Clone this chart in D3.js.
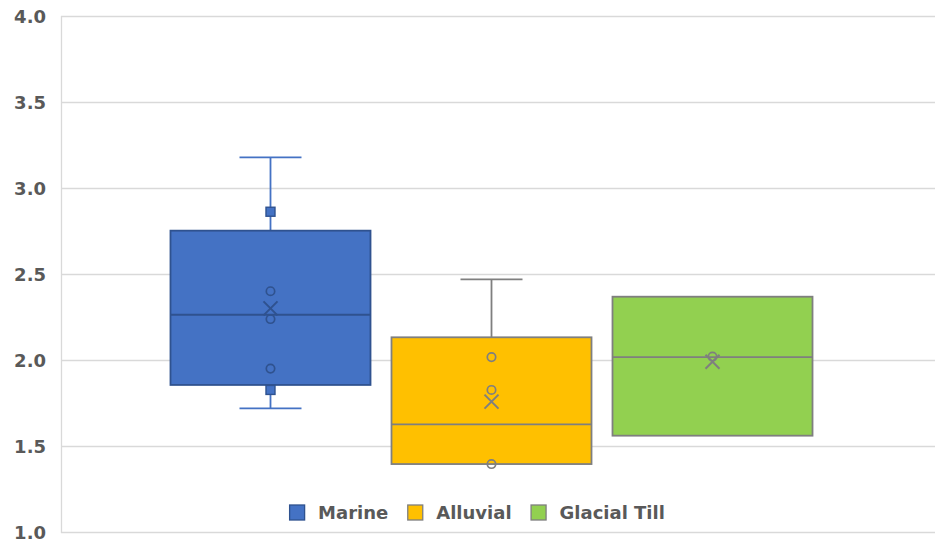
<!DOCTYPE html>
<html>
<head>
<meta charset="utf-8">
<script src="https://cdn.jsdelivr.net/npm/d3@7/dist/d3.min.js"></script>
<style>
  html, body { margin: 0; padding: 0; background: #ffffff; }
  svg { display: block; }
  text { font-family: "DejaVu Sans", sans-serif; font-weight: bold; fill: #595959; }
</style>
</head>
<body>
<svg id="chart" width="935" height="544"></svg>
<script>
// Box-and-whisker summary per soil type
const seriesNames = ["Marine", "Alluvial", "Glacial Till"];
const mins    = [1.719, 1.395, 1.56];
const q1s     = [1.855, 1.395, 1.56];
const medians = [2.263, 1.626, 2.017];
const q3s     = [2.752, 2.132, 2.368];
const maxs    = [3.178, 2.469, 2.368];
const means   = [2.30, 1.758, 1.99];
// Individual observations shown as markers
const pointsMarine   = [2.862, 2.40, 2.238, 1.95, 1.826];
const pointsAlluvial = [2.017, 1.826, 1.395];
const pointsGlacial  = [2.02];
const yTicks = [1.0, 1.5, 2.0, 2.5, 3.0, 3.5, 4.0];

const fills   = ["#4472C4", "#FFC000", "#92D050"];
const strokes = ["#2F528F", "#7F7F7F", "#7F7F7F"];
const whiskerColors = ["#4472C4", "#7F7F7F", "#7F7F7F"];

const pointSets = [pointsMarine, pointsAlluvial, pointsGlacial];
const data = seriesNames.map((name, i) => ({
  name, min: mins[i], q1: q1s[i], median: medians[i], q3: q3s[i],
  max: maxs[i], mean: means[i], points: pointSets[i],
  fill: fills[i], stroke: strokes[i], whisker: whiskerColors[i]
}));

const svg = d3.select("#chart");
const plot = { left: 61, right: 922, top: 16, bottom: 532, gridRight: 935 };

const y = d3.scaleLinear().domain([1, 4]).range([plot.bottom, plot.top]);

// One category group holding the three series side by side
const x0 = d3.scaleBand().domain([""]).range([plot.left, plot.right])
  .paddingInner(0).paddingOuter(0.1493);
const x1 = d3.scaleBand().domain(seriesNames).range([0, x0.bandwidth()])
  .paddingInner(0.095).paddingOuter(0.0475);

// Horizontal gridlines
svg.append("g").selectAll("line").data(yTicks).join("line")
  .attr("x1", plot.left).attr("x2", plot.gridRight)
  .attr("y1", d => Math.round(y(d)) + 0.5).attr("y2", d => Math.round(y(d)) + 0.5)
  .attr("stroke", "#D9D9D9").attr("stroke-width", 1.3);

// Left axis line
svg.append("line")
  .attr("x1", plot.left + 0.5).attr("x2", plot.left + 0.5)
  .attr("y1", plot.top).attr("y2", plot.bottom + 1)
  .attr("stroke", "#D9D9D9").attr("stroke-width", 1.3);

// Y axis labels
const yAxis = d3.axisLeft(y).tickValues(yTicks).tickFormat(d3.format(".1f"))
  .tickSize(0).tickPadding(15);
const gy = svg.append("g").attr("transform", `translate(${plot.left},0)`).call(yAxis);
gy.select(".domain").remove();
gy.selectAll("text").style("font-size", "18px").attr("fill", "#595959")
  .style("font-family", "'DejaVu Sans', sans-serif").style("font-weight", "bold")
  .attr("dy", "0.36em");

const groups = svg.append("g").selectAll("g").data(data).join("g")
  .attr("transform", d => `translate(${x0("") + x1(d.name)},0)`);

const bw = x1.bandwidth();
const cx = bw / 2;
const capHalf = bw * 0.155;

// Whiskers
groups.each(function(d) {
  const g = d3.select(this);
  if (d.max > d.q3) {
    g.append("line").attr("x1", cx).attr("x2", cx).attr("y1", y(d.max)).attr("y2", y(d.q3))
      .attr("stroke", d.whisker).attr("stroke-width", 1.8);
    g.append("line").attr("x1", cx - capHalf).attr("x2", cx + capHalf)
      .attr("y1", y(d.max)).attr("y2", y(d.max))
      .attr("stroke", d.whisker).attr("stroke-width", 1.8);
  }
  if (d.min < d.q1) {
    g.append("line").attr("x1", cx).attr("x2", cx).attr("y1", y(d.q1)).attr("y2", y(d.min))
      .attr("stroke", d.whisker).attr("stroke-width", 1.8);
    g.append("line").attr("x1", cx - capHalf).attr("x2", cx + capHalf)
      .attr("y1", y(d.min)).attr("y2", y(d.min))
      .attr("stroke", d.whisker).attr("stroke-width", 1.8);
  }
});

// Boxes
groups.append("rect")
  .attr("x", 0).attr("width", bw)
  .attr("y", d => y(d.q3)).attr("height", d => y(d.q1) - y(d.q3))
  .attr("fill", d => d.fill).attr("stroke", d => d.stroke).attr("stroke-width", 1.8);

// Medians
groups.append("line")
  .attr("x1", 0).attr("x2", bw)
  .attr("y1", d => y(d.median)).attr("y2", d => y(d.median))
  .attr("stroke", d => d.stroke).attr("stroke-width", 1.8);

// Observation markers: squares outside the box, circles within it
groups.each(function(d) {
  const g = d3.select(this);
  d.points.forEach(v => {
    if (v > d.q3 || v < d.q1) {
      g.append("rect").attr("x", cx - 4.5).attr("y", y(v) - 4.5)
        .attr("width", 9).attr("height", 9)
        .attr("fill", d.fill).attr("stroke", d.stroke).attr("stroke-width", 1.4);
    } else {
      g.append("circle").attr("cx", cx).attr("cy", y(v)).attr("r", 4.2)
        .attr("fill", "none").attr("stroke", d.stroke).attr("stroke-width", 1.7);
    }
  });
});

// Mean markers (X)
const mx = 7;
groups.append("path")
  .attr("d", d => {
    const my = y(d.mean);
    return `M${cx - mx},${my - mx}L${cx + mx},${my + mx}M${cx - mx},${my + mx}L${cx + mx},${my - mx}`;
  })
  .attr("fill", "none").attr("stroke", d => d.stroke).attr("stroke-width", 2);

// Legend
const legend = svg.append("g");
const sw = 16, gapText = 13, gapItem = 19;
let lx = 0;
const items = legend.selectAll("g").data(data).join("g");
items.each(function(d) {
  const g = d3.select(this);
  g.append("rect").attr("x", 0.5).attr("y", -sw / 2).attr("width", sw - 1).attr("height", sw - 1)
    .attr("fill", d.fill).attr("stroke", d.stroke).attr("stroke-width", 1.3);
  const t = g.append("text").attr("x", sw + gapText).attr("y", 0).attr("dy", "0.36em")
    .style("font-size", "18px").text(d.name);
  g.attr("transform", `translate(${lx},0)`);
  lx += sw + gapText + t.node().getComputedTextLength() + gapItem;
});
const legendWidth = lx - gapItem;
legend.attr("transform", `translate(${477 - legendWidth / 2},${513})`);
</script>
</body>
</html>
